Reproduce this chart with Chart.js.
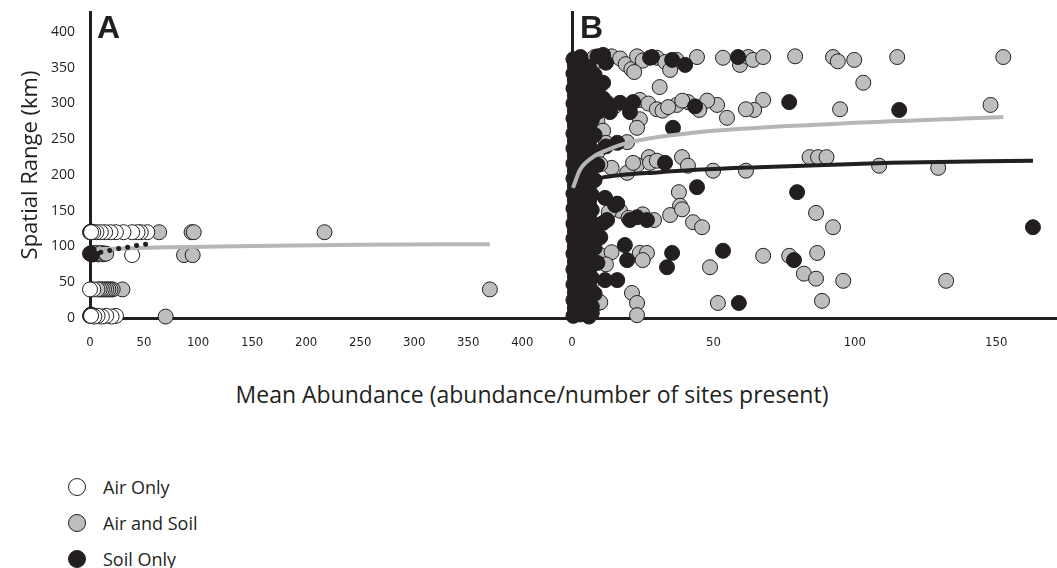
<!DOCTYPE html>
<html lang="en">
<head>
<meta charset="utf-8">
<title>Spatial range vs mean abundance</title>
<script src="https://cdn.jsdelivr.net/npm/chart.js@4.4.0/dist/chart.umd.min.js"></script>
<style>
body {
  margin: 0;
  background: #fff;
  font-family: "Open Sans", sans-serif;
  color: #231f20;
}
.stage {
  position: relative;
  width: 1057px;
  height: 568px;
  overflow: hidden;
}
.stage canvas {
  position: absolute;
  top: 0;
}
#chartA { left: 0; }
#chartB { left: 540px; }
.panel-letter {
  position: absolute;
  top: 11px;
  font: bold 32px "Liberation Sans", Arial, sans-serif;
  line-height: 32px;
}
.x-title {
  position: absolute;
  left: 0;
  width: 1064px;
  top: 378px;
  text-align: center;
  font-size: 23px;
  line-height: 32px;
}
.legend {
  position: absolute;
  left: 68px;
  top: 469px;
  font-size: 18px;
}
.legend div {
  height: 36px;
  display: flex;
  align-items: center;
}
.legend span.dot {
  display: inline-block;
  box-sizing: border-box;
  width: 18px;
  height: 18px;
  border-radius: 50%;
  border: 1.5px solid #231f20;
  margin-right: 17px;
}
</style>
</head>
<body>
<div class="stage">
  <canvas id="chartA" width="572" height="360"></canvas>
  <canvas id="chartB" width="517" height="360"></canvas>
  <div class="panel-letter" style="left:97px">A</div>
  <div class="panel-letter" style="left:580px">B</div>
  <div class="x-title">Mean Abundance (abundance/number of sites present)</div>
  <div class="legend">
    <div><span class="dot" style="background:#ffffff"></span>Air Only</div>
    <div><span class="dot" style="background:#bcbec0"></span>Air and Soil</div>
    <div><span class="dot" style="background:#231f20"></span>Soil Only</div>
  </div>
</div>

<script>
// ---- data: [mean abundance, spatial range km] ----

// panel A
const airOnlyA = [
  [53,120],[47,120],[44,120],[39,120],[31,120],[24,120],[19,120],[14,120],[10,120],[6,120],[3,120],[1,120],
  [39,88],
  [3,40],[0,40],
  [24,3],[20,2],[15,3],[11,2],[7,3],[4,2],[1,3]
];
const airSoilA = [
  [64,120],[94,120],[96,120],[217,120],
  [87,88],[95,88],[0,90],[1.5,91],[3,89],[4.5,90],[6,91],[7.5,89],[9,90],[10.5,91],[12,89],[13.5,90],[15,90],
  [30,40],[21,40],[19,40],[17,40],[15,40],[13,40],[11,40],[9,40],[7,40],[370,40],
  [70,2]
];
const soilOnlyA = [
  [0,120],[1,121],[0.5,90],[2,89],[1,40],[0,3],[1,5]
];
const trendAirSoilA = [[6,96],[60,98.5],[150,100.8],[250,102.3],[370,103.3]];
const trendSoilA = [[2,88],[10,92],[20,95],[29,98],[37,99.5],[45,102],[54,103.5]];

// panel B
const airSoilB = [
  [44.2,365],[53.4,364],[59.4,354],[62.3,365],[64,361],[67.6,365],[78.9,366],[92.3,365],[94,359],[99.8,361],[115,365],[152.5,365],
  [8,365],[10,360],[14,366],[17,363],[19,355],[21,348],[23,366],[25,360],[30,364],[33,358],[37,361],[22,344],[34.7,347],
  [103,329],[31,323],
  [148,298],[94.8,292],[67.6,305],[64.4,291],[61.5,292],[54.8,280],[51.3,298],[47.8,304],[45,291],[41,302],[37,298],
  [9,303],[15,296],[24,305],[27,300],[30,292],[32,290],[34,295],[39,304],
  [9,275],[24,278],[23,266],[11,262],
  [19.5,246],[12,245],[9,232],
  [84,225],[87,225],[90,225],[108.6,213],[129.5,210],[49.9,206],[61.5,206],[27.2,225],[38.9,225],[41,213],[23,214],[19.5,203],
  [27.6,217],[21.6,217],[14,210],[10,215],[30,220],
  [37.8,176],[38.2,157],[34.7,144],[38.9,152],[42.8,134],[46,127],[86.3,147],[92.3,127],
  [17,150],[20,140],[25,145],[29,137],[13,148],
  [67.6,87],[76.8,87],[86.7,91],[48.8,71],[82,62],[86.3,55],[95.9,52],[132.3,52],[88.4,24],[51.6,21],
  [24,91],[26.5,91],[25,81],[10,88],[14,92],[12,75],
  [21.2,35],[23,21],[23,4],[9.2,21],[10,22],[7,50]
];
const soilOnlyB = [
  [0.5,3],[3,5],[6,2],[1,14],[4,12],[7,16],[0.5,25],[3,27],[6,23],[1,36],[4,38],[8,34],
  [0.5,47],[3,49],[6,45],[1,58],[4,60],[7,56],[0.5,68],[3,70],[6,66],[1,79],[4,81],[9,77],
  [0.5,90],[3,92],[6,88],[1,100],[4,102],[8,98],[0.5,111],[3,113],[6,109],[1,122],[4,124],[7,120],
  [0.5,132],[3,134],[9,130],[1,143],[4,145],[6,141],[0.5,153],[3,155],[7,151],[1,164],[4,166],[6,162],
  [0.5,174],[3,176],[7,172],[1,185],[4,187],[6,183],[0.5,195],[3,197],[8,193],[1,206],[4,208],[6,204],
  [0.5,216],[3,218],[9,214],[1,227],[4,229],[6,225],[0.5,237],[3,239],[7,235],[1,248],[4,250],[6,246],
  [0.5,258],[3,260],[8,256],[1,269],[4,271],[6,267],[0.5,279],[3,281],[7,277],[1,290],[4,292],[9,288],
  [0.5,300],[3,302],[7,298],[1,311],[4,313],[6,309],[0.5,321],[3,323],[7,319],[1,332],[4,334],[6,330],
  [0.5,342],[3,344],[8,340],[1,353],[4,355],[6,351],[0.5,362],[3,365],[9,366],
  [11,368],[12,357],[10,326],[11,329],[12.4,301],[17,301],[21.6,302],[13.4,288],[20.5,288],[11,307],
  [16,245],[12,240],[11.7,168],[15.2,158],[16,160],[11,133],[12.4,137],[20.5,137],[23,141],[26.5,137],
  [10,113],[18.7,102],[19.5,81],[16,53],[11.7,53],[7,7],
  [28.3,365],[27.6,364],[35.4,361],[40,354],[58.7,365],
  [43.5,296],[76.8,302],[115.7,291],[35.7,266],[32.9,217],[44.2,183],[79.6,176],[163,127],
  [53.4,94],[78.5,81],[35.4,91],[33.6,71],[59,21]
];
const trendAirSoilB = [[0.35,182],[2.8,207],[7.4,225],[12.4,235],[20.5,246],[42.8,259],[90.2,271],[152.5,281]];
const trendSoilB = [[3,188],[10,196],[31,204],[66,211],[113,217],[163,220]];

const xTicksA = [0, 50, 100, 150, 200, 250, 300, 350, 400];
const xTicksB = [0, 50, 100, 150];

// ---- styling ----
const INK = '#231f20';
const GREY = '#bcbec0';
const LINE_GREY = '#b4b6b8';
const TICK_FONT = { family: "'Liberation Sans Narrow', 'DejaVu Sans Condensed', sans-serif", size: 13 };

function toXY(pairs) {
  return pairs.map(p => ({ x: p[0], y: p[1] }));
}

function pointSet(label, pairs, fill, order) {
  return {
    label: label,
    data: toXY(pairs),
    backgroundColor: fill,
    borderColor: INK,
    borderWidth: 1,
    pointRadius: 7.5,
    order: order,
    clip: false
  };
}

function trendSet(label, pairs, colour, dash) {
  return {
    label: label,
    data: toXY(pairs),
    showLine: true,
    borderColor: colour,
    borderWidth: dash ? 5 : 4,
    borderDash: dash || [],
    borderCapStyle: dash ? 'round' : 'butt',
    cubicInterpolationMode: 'monotone',
    pointRadius: 0,
    fill: false,
    order: 0,
    clip: false
  };
}

function buildOptions(xMax, xTicks, showY) {
  return {
    responsive: false,
    animation: false,
    events: [],
    layout: { autoPadding: false, padding: { top: 12, left: 0, right: 0, bottom: 0 } },
    plugins: { legend: { display: false }, tooltip: { enabled: false } },
    scales: {
      x: {
        type: 'linear',
        min: 0,
        max: xMax,
        grid: { display: false, drawTicks: false },
        border: { color: INK, width: 3 },
        ticks: { font: TICK_FONT, color: INK, padding: 17, maxRotation: 0 },
        afterBuildTicks: s => { s.ticks = xTicks.map(v => ({ value: v })); },
        afterFit: s => { s.height = 42; s.paddingLeft = 0; s.paddingRight = 0; }
      },
      y: {
        type: 'linear',
        min: 0,
        max: 428,
        grid: { display: false, drawTicks: false },
        border: { color: INK, width: 3 },
        ticks: {
          display: showY,
          stepSize: 50,
          font: { family: "'Open Sans', sans-serif", size: 14 },
          color: INK,
          padding: 15
        },
        afterBuildTicks: s => { s.ticks = s.ticks.filter(t => t.value <= 400); },
        title: {
          display: showY,
          text: 'Spatial Range (km)',
          color: INK,
          font: { family: "'Open Sans', sans-serif", size: 22 },
          padding: { top: 18, bottom: 0 }
        },
        // keep the plot box fixed: 0 km sits on y=318, the axis top on y=12
        afterFit: s => { s.width = showY ? 90 : 32; s.paddingTop = 0; s.paddingBottom = 0; }
      }
    }
  };
}

/* Panel A */
const dottedSoilA = trendSet('Soil Only trend', trendSoilA, INK, [0.1, 9]);
dottedSoilA.order = -1; // dots sit on top of the grey trend line

new Chart(document.getElementById('chartA'), {
  type: 'scatter',
  data: {
    datasets: [
      dottedSoilA,
      trendSet('Air and Soil trend', trendAirSoilA, LINE_GREY),
      pointSet('Air Only', airOnlyA, '#ffffff', 1),
      pointSet('Soil Only', soilOnlyA, INK, 2),
      pointSet('Air and Soil', airSoilA, GREY, 3)
    ]
  },
  options: buildOptions(446, xTicksA, true)
});

/* Panel B */
new Chart(document.getElementById('chartB'), {
  type: 'scatter',
  data: {
    datasets: [
      trendSet('Air and Soil trend', trendAirSoilB, LINE_GREY),
      trendSet('Soil Only trend', trendSoilB, INK),
      pointSet('Soil Only', soilOnlyB, INK, 2),
      pointSet('Air and Soil', airSoilB, GREY, 3)
    ]
  },
  options: buildOptions(171.5, xTicksB, false)
});
</script>
</body>
</html>
